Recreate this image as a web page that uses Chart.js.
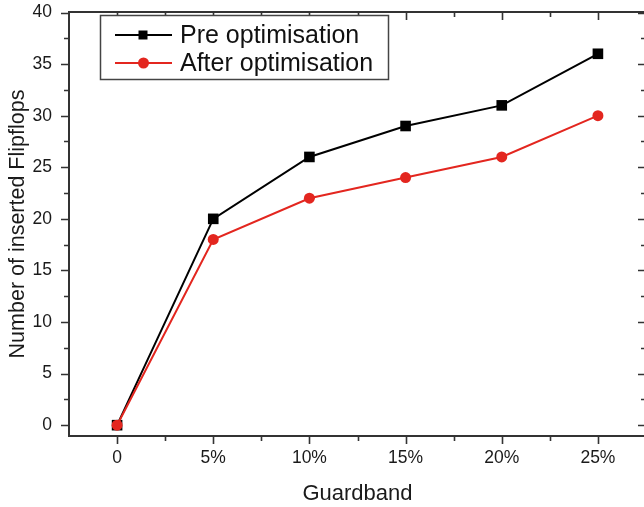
<!DOCTYPE html>
<html>
<head>
<meta charset="utf-8">
<script src="https://cdn.jsdelivr.net/npm/chart.js@4/dist/chart.umd.min.js"></script>
<style>
  html, body { margin: 0; padding: 0; background: #fff; overflow: hidden; width: 644px; height: 507px; }
  #wrap { position: relative; width: 647px; height: 507px; }
  canvas { display: block; }
</style>
</head>
<body>
<div id="wrap"><canvas id="c"></canvas></div>
<script>
// Guardband levels on the x axis
const categories = ['0', '5%', '10%', '15%', '20%', '25%'];
// Inserted flip-flop counts per guardband
const preOptimisation = [0, 20, 26, 29, 31, 36];
const afterOptimisation = [0, 18, 22, 24, 26, 30];
// Major y tick values
const yTickValues = [0, 5, 10, 15, 20, 25, 30, 35, 40];

const FONT = '"Liberation Sans", Arial, sans-serif';
const AXIS_COLOR = '#333';
const TEXT_COLOR = '#1a1a1a';

const toPoints = arr => arr.map((v, i) => ({ x: i, y: v }));

// Box frame with major/minor ticks: outward on left/bottom, mirrored inward on top/right
const framePlugin = {
  id: 'frame',
  beforeDatasetsDraw(chart) {
    const { ctx, chartArea: a, scales } = chart;
    const xs = scales.x, ys = scales.y;
    ctx.save();
    ctx.strokeStyle = AXIS_COLOR;
    ctx.lineWidth = 2;
    ctx.beginPath();
    ctx.moveTo(a.left, a.top); ctx.lineTo(a.right, a.top);
    ctx.moveTo(a.left, a.bottom); ctx.lineTo(a.right, a.bottom);
    ctx.moveTo(a.left, a.top - 1); ctx.lineTo(a.left, a.bottom + 1);
    ctx.moveTo(a.right, a.top - 1); ctx.lineTo(a.right, a.bottom + 1);
    ctx.stroke();

    ctx.lineWidth = 1.6;
    ctx.beginPath();
    const major = 8, minor = 5;
    // x ticks
    for (let v = xs.min; v <= xs.max + 1e-9; v += 0.5) {
      const isMajor = Math.abs(v - Math.round(v)) < 1e-9;
      const len = isMajor ? major : minor;
      const px = Math.round(xs.getPixelForValue(v)) + 0.5;
      if (px <= a.left + 1 || px >= a.right - 1) continue;
      ctx.moveTo(px, a.bottom); ctx.lineTo(px, a.bottom + len);
      ctx.moveTo(px, a.top); ctx.lineTo(px, a.top + len);
    }
    // y ticks
    for (let v = 0; v <= 40 + 1e-9; v += 2.5) {
      const isMajor = Math.abs(v / 5 - Math.round(v / 5)) < 1e-9;
      const len = isMajor ? major : minor;
      const py = Math.round(ys.getPixelForValue(v)) + 0.5;
      if (py <= a.top + 1) continue;
      ctx.moveTo(a.left, py); ctx.lineTo(a.left - len, py);
      ctx.moveTo(a.right, py); ctx.lineTo(a.right - len, py);
    }
    ctx.stroke();
    ctx.restore();
  }
};

// Boxed legend inside the plot: line sample with marker, then label
const boxLegendPlugin = {
  id: 'boxLegend',
  afterDraw(chart) {
    const { ctx } = chart;
    const x0 = 100, y0 = 15, w = 288, h = 64;
    ctx.save();
    ctx.fillStyle = '#fff';
    ctx.fillRect(x0, y0, w, h);
    ctx.strokeStyle = '#444';
    ctx.lineWidth = 1.5;
    ctx.strokeRect(x0 + 0.5, y0 + 0.5, w, h);
    chart.data.datasets.forEach((ds, i) => {
      const cy = 35 + i * 28;
      ctx.strokeStyle = ds.borderColor;
      ctx.lineWidth = 2;
      ctx.beginPath();
      ctx.moveTo(115, cy); ctx.lineTo(172, cy);
      ctx.stroke();
      ctx.fillStyle = ds.borderColor;
      ctx.beginPath();
      if (ds.pointStyle === 'rect') {
        ctx.rect(138.5, cy - 4.5, 9, 9);
      } else {
        ctx.arc(143.5, cy, 5.5, 0, Math.PI * 2);
      }
      ctx.fill();
      ctx.fillStyle = '#111';
      ctx.font = '25px ' + FONT;
      ctx.textBaseline = 'middle';
      ctx.textAlign = 'left';
      ctx.fillText(ds.label, 180, cy + 1);
    });
    ctx.restore();
  }
};

new Chart(document.getElementById('c'), {
  type: 'line',
  data: {
    datasets: [
      {
        label: 'Pre optimisation',
        data: toPoints(preOptimisation),
        borderColor: '#000',
        backgroundColor: '#000',
        borderWidth: 2,
        pointStyle: 'rect',
        pointRadius: 7.5,
        pointBorderWidth: 0,
        tension: 0,
        order: 2
      },
      {
        label: 'After optimisation',
        data: toPoints(afterOptimisation),
        borderColor: '#e3261f',
        backgroundColor: '#e3261f',
        borderWidth: 2,
        pointStyle: 'circle',
        pointRadius: 5.5,
        pointBorderWidth: 0,
        tension: 0,
        order: 1
      }
    ]
  },
  options: {
    responsive: true,
    maintainAspectRatio: false,
    animation: false,
    devicePixelRatio: 1,
    layout: { autoPadding: false, padding: { top: 12, right: 1, left: 0, bottom: 0 } },
    plugins: {
      legend: { display: false },
      tooltip: { enabled: false }
    },
    scales: {
      x: {
        type: 'linear',
        min: -0.5,
        max: 5.5,
        grid: { display: true, drawOnChartArea: false, drawTicks: true, tickLength: 10, color: 'rgba(0,0,0,0)' },
        border: { display: false },
        afterBuildTicks: s => { s.ticks = categories.map((_, i) => ({ value: i })); },
        afterFit: s => { s.height = 71; s.paddingLeft = 0; s.paddingRight = 0; },
        ticks: {
          autoSkip: false,
          maxRotation: 0,
          padding: 2,
          color: TEXT_COLOR,
          font: { family: FONT, size: 17.5 },
          callback: v => categories[v]
        },
        title: {
          display: true,
          text: 'Guardband',
          color: TEXT_COLOR,
          font: { family: FONT, size: 22 },
          padding: { top: 4, bottom: 0 }
        }
      },
      y: {
        min: -1.05,
        max: 40.05,
        grid: { display: true, drawOnChartArea: false, drawTicks: true, tickLength: 15, color: 'rgba(0,0,0,0)' },
        border: { display: false },
        afterBuildTicks: s => { s.ticks = yTickValues.map(v => ({ value: v })); },
        afterFit: s => { s.width = 69; s.paddingTop = 0; s.paddingBottom = 0; },
        ticks: {
          padding: 2,
          color: TEXT_COLOR,
          font: { family: FONT, size: 17.5 }
        },
        title: {
          display: true,
          text: 'Number of inserted Flipflops',
          color: TEXT_COLOR,
          font: { family: FONT, size: 21.5 },
          padding: { top: 5, bottom: 0 }
        }
      }
    }
  },
  plugins: [framePlugin, boxLegendPlugin]
});
</script>
</body>
</html>
